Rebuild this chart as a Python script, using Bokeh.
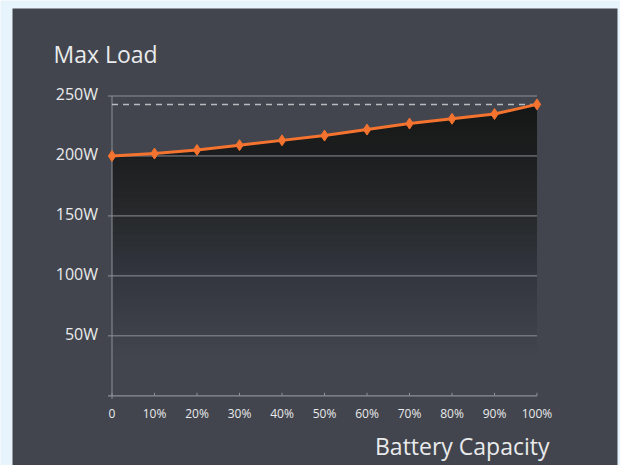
import numpy as np
from bokeh.plotting import figure
from bokeh.models import Range1d, Label, BoxAnnotation
from bokeh.core.properties import value
from bokeh.embed import file_html
from bokeh.resources import INLINE

# ---- data ----
capacity = [0, 10, 20, 30, 40, 50, 60, 70, 80, 90, 100]
max_load = [200, 202, 205, 209, 213, 217, 222, 227, 231, 235, 243]
x_tick_labels = ["0", "10%", "20%", "30%", "40%", "50%", "60%", "70%", "80%", "90%", "100%"]
y_ticks = [50, 100, 150, 200, 250]
y_tick_labels = ["50W", "100W", "150W", "200W", "250W"]
title_text = "Max Load"
x_title_text = "Battery Capacity"

# ---- style ----
PAGE = "#e8f4fb"
PANEL = "#42454d"
DARK = "#141518"
GRID = "#8d9096"
DASH = "#b9bbc0"
ORANGE = "#f3732f"
TEXT = "#e9eaec"
FONT = "Open Sans"

W, H = 620, 465                             # whole canvas is the plotting frame
PANEL_L, PANEL_R, PANEL_T = 12, 617, 8      # dark card (px)
X0_PX, X100_PX = 111.5, 536.5               # where 0% / 100% fall (px from left)
Y0_PX, YTOP_PX = 395.3, 95.5                # where 0W / 250W fall (px from top)

xmin, xmax = capacity[0], capacity[-1]
ymax = y_ticks[-1]
kx = (X100_PX - X0_PX) / (xmax - xmin)
ky = (Y0_PX - YTOP_PX) / ymax
x_start = xmin - X0_PX / kx
x_end = xmax + (W - X100_PX) / kx
y_start = -(H - Y0_PX) / ky
y_end = Y0_PX / ky

p = figure(width=W, height=H, x_range=Range1d(x_start, x_end), y_range=Range1d(y_start, y_end),
           output_backend="svg", toolbar_location=None,
           x_axis_type=None, y_axis_type=None,
           min_border=0, min_border_left=0, min_border_right=0, min_border_top=0, min_border_bottom=0,
           background_fill_color=PAGE, border_fill_color=PAGE)
p.outline_line_color = None
p.grid.visible = False

# dark card behind the chart
p.add_layout(BoxAnnotation(left=PANEL_L, right=PANEL_R, top=H - PANEL_T, bottom=0,
                           left_units="screen", right_units="screen",
                           top_units="screen", bottom_units="screen",
                           fill_color=PANEL, fill_alpha=1.0, line_color=None, level="underlay"))

vals = np.array(max_load, dtype=float)

# gradient fill under the line (stacked translucent layers)
levels = np.linspace(30, vals.max(), 48)
target = np.interp(levels, [30, 100, 150, 200, vals.max()], [0.0, 0.15, 0.46, 0.70, 0.80])
prev = 0.0
for lev, o in zip(levels, target):
    a = 1 - (1 - o) / (1 - prev)
    prev = o
    if a <= 0:
        continue
    p.varea(x=capacity, y1=np.minimum(lev, vals), y2=vals, fill_color=DARK, fill_alpha=a)

# grid lines, axis lines, ticks
tick_out = 4 / kx
p.segment(x0=[xmin - tick_out] * len(y_ticks), y0=y_ticks, x1=[xmax] * len(y_ticks), y1=y_ticks,
          line_color=GRID, line_width=1)
p.segment(x0=[xmin - tick_out], y0=[0], x1=[xmax], y1=[0], line_color=GRID, line_width=1.2)
p.segment(x0=[xmin], y0=[-3 / ky], x1=[xmin], y1=[ymax], line_color=GRID, line_width=1)
p.segment(x0=capacity, y0=[0] * len(capacity), x1=capacity, y1=[3 / ky] * len(capacity),
          line_color=GRID, line_width=1)

# dashed max line
p.segment(x0=[xmin], y0=[vals.max()], x1=[xmax], y1=[vals.max()], line_color=DASH,
          line_width=1.5, line_dash="6 5")

# the series
p.line(capacity, max_load, line_color=ORANGE, line_width=3)
p.scatter(capacity, max_load, marker="diamond", size=11, fill_color=ORANGE, line_color=ORANGE)

# tick labels
p.text(x=[xmin] * len(y_ticks), y=y_ticks, text=y_tick_labels, x_offset=-14, y_offset=-2,
       text_align="right", text_baseline="middle", text_font=value(FONT),
       text_font_size="16px", text_color=TEXT)
p.text(x=capacity, y=[0] * len(capacity), text=x_tick_labels, y_offset=18,
       text_align="center", text_baseline="middle", text_font=value(FONT),
       text_font_size="12px", text_color=TEXT)

# titles (screen units, from the canvas' bottom-left)
p.add_layout(Label(x=53, y=H - 53.3, x_units="screen", y_units="screen", text=title_text,
                   text_font=FONT, text_font_size="23px", text_color=TEXT,
                   text_baseline="alphabetic", text_align="left"))
p.add_layout(Label(x=549, y=H - 445, x_units="screen", y_units="screen", text=x_title_text,
                   text_font=FONT, text_font_size="23px", text_color=TEXT,
                   text_baseline="alphabetic", text_align="right"))

open("out.html", "w").write(file_html(p, INLINE))
